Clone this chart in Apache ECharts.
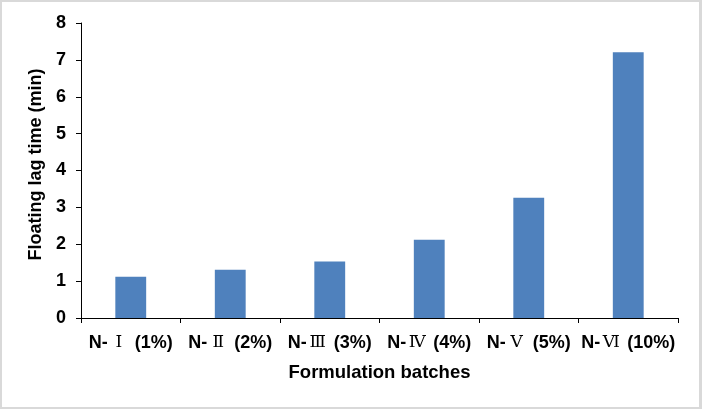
<!DOCTYPE html>
<html>
<head>
<meta charset="utf-8">
<script src="https://cdn.jsdelivr.net/npm/echarts@6/dist/echarts.min.js"></script>
<style>
html,body{margin:0;padding:0;background:#fff;}
#chart{position:absolute;left:0;top:0;width:702px;height:409px;}
#frame{position:absolute;left:0;top:0;width:702px;height:409px;box-sizing:border-box;border:2px solid #d9d9d9;border-right-width:3px;pointer-events:none;}
</style>
</head>
<body>
<div id="chart"></div>
<div id="frame"></div>
<script>
var categories = ['N-Ⅰ (1%)', 'N-Ⅱ (2%)', 'N-Ⅲ (3%)', 'N-Ⅳ (4%)', 'N-Ⅴ (5%)', 'N-Ⅵ (10%)'];
var lagTimes = [1.12, 1.31, 1.53, 2.12, 3.26, 7.21];
var yTicks = [0, 1, 2, 3, 4, 5, 6, 7, 8];

var sansBold = {fontFamily: 'Liberation Sans, Arial', fontWeight: 'bold', fontSize: 18, color: '#000'};

var chart = echarts.init(document.getElementById('chart'), null, {renderer: 'canvas'});
chart.setOption({
  animation: false,
  backgroundColor: '#ffffff',
  grid: {left: 81, right: 24, top: 23, bottom: 91, containLabel: false},
  xAxis: {
    type: 'category',
    data: categories,
    name: 'Formulation batches',
    nameLocation: 'middle',
    nameGap: 45,
    nameTextStyle: {fontFamily: 'Liberation Sans, Arial', fontWeight: 'bold', fontSize: 18.5, color: '#000'},
    axisLine: {lineStyle: {color: '#000', width: 1}},
    axisTick: {show: true, length: 5, lineStyle: {color: '#000'}, alignWithLabel: false},
    axisLabel: {
      interval: 0,
      margin: 16,
      fontFamily: 'Liberation Sans, Arial', fontWeight: 'bold', fontSize: 18, color: '#000',
      formatter: function (v) {
        var m = v.match(/^(N-)([\u2160-\u216F]+)(.*)$/);
        if (!m) return v;
        return '{a|' + m[1] + '}{r|' + m[2] + '}{a|' + m[3] + '}';
      },
      rich: {
        a: sansBold,
        r: {fontFamily: 'DejaVu Serif, Noto Sans CJK SC', fontWeight: 'normal', fontSize: 17, color: '#000', width: 22, align: 'center'}
      }
    },
    splitLine: {show: false}
  },
  yAxis: {
    type: 'value',
    min: yTicks[0],
    max: yTicks[yTicks.length - 1],
    interval: 1,
    name: 'Floating lag time (min)',
    nameLocation: 'middle',
    nameGap: 34,
    nameTextStyle: {fontFamily: 'Liberation Sans, Arial', fontWeight: 'bold', fontSize: 18, color: '#000', padding: [0, 0, 0, 12]},
    axisLine: {show: true, lineStyle: {color: '#000', width: 1}},
    axisTick: {show: true, length: 5, lineStyle: {color: '#000'}},
    axisLabel: {fontFamily: 'Liberation Sans, Arial', fontWeight: 'bold', fontSize: 18, color: '#000', margin: 15},
    splitLine: {show: false}
  },
  series: [{
    type: 'bar',
    data: lagTimes,
    barWidth: '31%',
    itemStyle: {color: '#4f81bd'}
  }]
});
</script>
</body>
</html>
